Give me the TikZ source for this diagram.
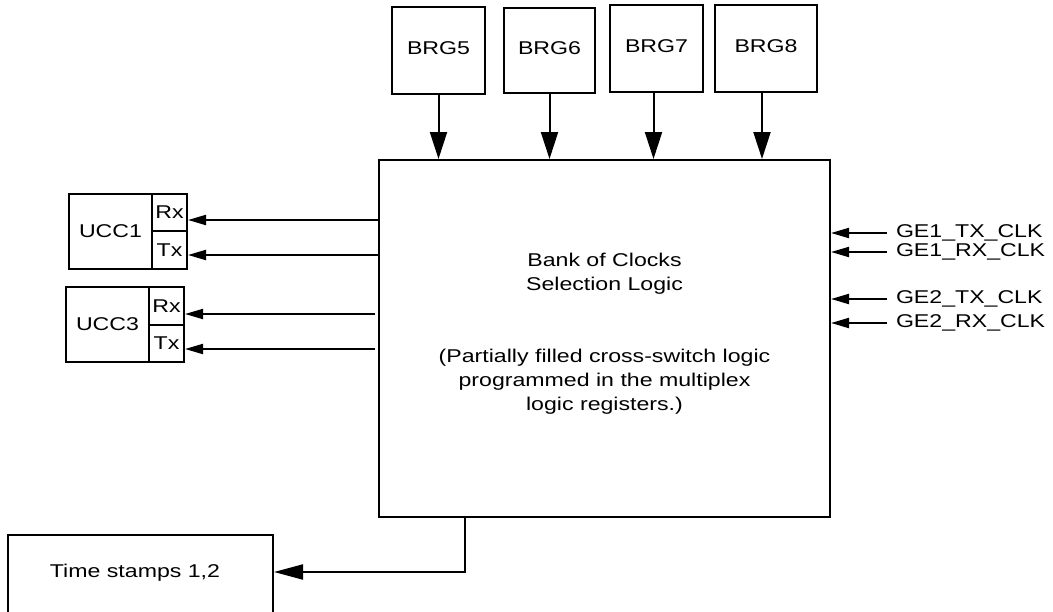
\documentclass[tikz,border=0pt]{standalone}
\usepackage{fontspec}
\setmainfont{Liberation Sans}[FakeStretch=1.25]
\usetikzlibrary{arrows.meta}
\begin{document}
\begin{tikzpicture}[x=1pt,y=-1pt,line width=2pt,
  txt/.style={font=\fontsize{18.5}{24}\selectfont,inner sep=0pt},
  blk/.style={draw,line width=2pt,inner sep=0pt,font=\fontsize{18.5}{24}\selectfont},
  brgbox/.style={blk,text height=13.3pt,text depth=6pt},
  vin/.style={-{Triangle[length=27pt,width=17pt]}},
  hin/.style={-{Triangle[length=18pt,width=10pt]}},
  bigin/.style={-{Triangle[length=29pt,width=15pt]}},
  sig/.style={txt,text height=13.3pt,text depth=5pt,inner xsep=8pt,anchor=west}]
\useasboundingbox (0,0) rectangle (1053,611);
\clip (0,0) rectangle (1053,611);

% main block
\node[blk,minimum width=451pt,minimum height=357pt] (main) at (604.5,338.5) {};
\node[txt,anchor=base] (t1) at (604.5,266) {Bank of Clocks};
\node[txt,anchor=base] (t2) at (604.5,290) {Selection Logic};
\node[txt,anchor=base] (t3) at (604.5,362) {(Partially filled cross-switch logic};
\node[txt,anchor=base] (t4) at (604.5,386) {programmed in the multiplex};
\node[txt,anchor=base] (t5) at (604.5,410) {logic registers.)};

% BRG boxes
\node[brgbox,minimum width=93pt,minimum height=87pt] (b5) at (438.5,50.5) {BRG5};
\node[brgbox,minimum width=91pt,minimum height=85pt] (b6) at (549.5,50.5) {BRG6};
\node[brgbox,minimum width=93pt,minimum height=87pt] (b7) at (656.5,48.5) {BRG7};
\node[brgbox,minimum width=102pt,minimum height=87pt] (b8) at (766,48.5) {BRG8};
\draw[vin] (b5.south) -- (b5.south |- main.north);
\draw[vin] (b6.south) -- (b6.south |- main.north);
\draw[vin] ([xshift=-3pt]b7.south) -- ([xshift=-3pt]b7.south |- main.north);
\draw[vin] ([xshift=-4pt]b8.south) -- ([xshift=-4pt]b8.south |- main.north);

% UCC1
\node[blk,minimum width=83pt,minimum height=75pt] (u1) at (110.5,231.5) {UCC1};
\node[blk,minimum width=35pt,minimum height=37pt] (u1rx) at (169.5,212.5) {Rx};
\node[blk,minimum width=35pt,minimum height=38pt] (u1tx) at (169.5,250) {Tx};
\draw[hin] (main.west |- 0,220) -- (u1rx.east |- 0,220);
\draw[hin] (main.west |- 0,255) -- (u1tx.east |- 0,255);

% UCC3
\node[blk,minimum width=83pt,minimum height=75pt] (u3) at (107.5,324.5) {UCC3};
\node[blk,minimum width=35pt,minimum height=38pt] (u3rx) at (166.5,306) {Rx};
\node[blk,minimum width=35pt,minimum height=37pt] (u3tx) at (166.5,343.5) {Tx};
\draw[hin] ([xshift=-3pt]main.west |- 0,314) -- (u3rx.east |- 0,314);
\draw[hin] ([xshift=-3pt]main.west |- 0,349) -- (u3tx.east |- 0,349);

% right-hand clock inputs
\node[sig] (g1) at (887,233) {GE1\_TX\_CLK};
\node[sig] (g2) at (887,252) {GE1\_RX\_CLK};
\node[sig] (g3) at (887,299) {GE2\_TX\_CLK};
\node[sig] (g4) at (887,323) {GE2\_RX\_CLK};
\draw[hin] (g1.west) -- (g1.west -| main.east);
\draw[hin] (g2.west) -- (g2.west -| main.east);
\draw[hin] (g3.west) -- (g3.west -| main.east);
\draw[hin] (g4.west) -- (g4.west -| main.east);

% time stamps
\node[blk,minimum width=265pt,minimum height=110pt] (ts) at (140.5,590) {};
\node[txt,anchor=base] (tst) at (135,577) {Time stamps 1,2};
\coordinate (bend) at (465,572);
\draw[bigin] (main.south -| bend) -- (bend) -- (bend -| ts.east);
\end{tikzpicture}
\end{document}
